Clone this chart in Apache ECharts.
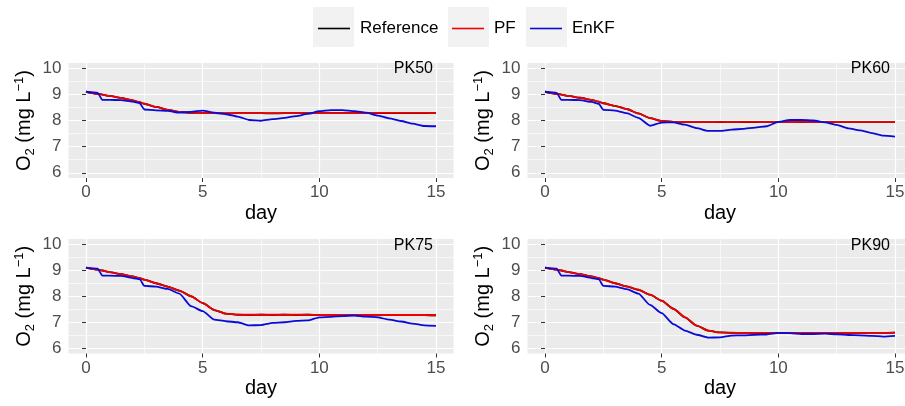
<!DOCTYPE html>
<html lang="en">
<head>
    <meta charset="UTF-8">
    <title>O2 PF vs EnKF</title>
    <script src="https://cdn.jsdelivr.net/npm/echarts@6/dist/echarts.min.js"></script>
    <style>
        html, body { margin: 0; padding: 0; background: #fff; }
        #chart { width: 905px; height: 406px; }
    </style>
</head>
<body>
    <div id="chart"></div>
    <script>
        // --- data ---
        const days = [0, 0.5, 0.7, 1, 1.5, 2, 2.3, 2.5, 3, 3.5, 4, 4.5, 5, 5.5, 6, 6.5, 7, 7.5, 8, 8.5, 9, 9.5, 10, 10.5, 11, 11.5, 12, 12.5, 13, 13.5, 14, 14.5, 15];

        const ref50  = [9.1, 9.02, 8.99, 8.94, 8.86, 8.77, 8.7, 8.64, 8.52, 8.41, 8.33, 8.29, 8.28, 8.28, 8.27, 8.28, 8.28, 8.28, 8.27, 8.28, 8.28, 8.28, 8.28, 8.28, 8.28, 8.28, 8.28, 8.28, 8.28, 8.28, 8.28, 8.28, 8.28];
        const pf50   = [9.1, 9.02, 8.99, 8.94, 8.86, 8.77, 8.7, 8.64, 8.52, 8.41, 8.33, 8.29, 8.28, 8.28, 8.28, 8.28, 8.28, 8.28, 8.28, 8.28, 8.28, 8.28, 8.28, 8.28, 8.28, 8.28, 8.28, 8.29, 8.29, 8.29, 8.29, 8.29, 8.28];
        const enkf50 = [9.1, 9.06, 8.79, 8.79, 8.78, 8.72, 8.66, 8.42, 8.39, 8.37, 8.3, 8.33, 8.38, 8.3, 8.24, 8.15, 8.02, 7.99, 8.05, 8.1, 8.17, 8.25, 8.36, 8.4, 8.4, 8.36, 8.3, 8.19, 8.08, 7.98, 7.88, 7.79, 7.78];

        const ref60  = [9.1, 9.02, 8.99, 8.94, 8.87, 8.79, 8.72, 8.66, 8.56, 8.44, 8.27, 8.09, 7.98, 7.95, 7.95, 7.95, 7.95, 7.94, 7.95, 7.94, 7.94, 7.95, 7.95, 7.95, 7.94, 7.95, 7.95, 7.95, 7.95, 7.95, 7.95, 7.95, 7.95];
        const pf60   = [9.1, 9.02, 8.99, 8.94, 8.87, 8.79, 8.72, 8.66, 8.56, 8.44, 8.27, 8.09, 7.98, 7.95, 7.95, 7.95, 7.95, 7.95, 7.95, 7.95, 7.95, 7.95, 7.95, 7.95, 7.95, 7.95, 7.95, 7.95, 7.95, 7.95, 7.95, 7.95, 7.95];
        const enkf60 = [9.1, 9.06, 8.79, 8.79, 8.78, 8.71, 8.64, 8.41, 8.38, 8.28, 8.1, 7.8, 7.92, 7.93, 7.84, 7.71, 7.6, 7.6, 7.65, 7.68, 7.73, 7.78, 7.95, 8.02, 8.02, 8.0, 7.93, 7.83, 7.7, 7.62, 7.52, 7.42, 7.38];

        const ref75  = [9.1, 9.02, 8.99, 8.93, 8.85, 8.76, 8.7, 8.64, 8.5, 8.37, 8.22, 8.0, 7.74, 7.47, 7.33, 7.29, 7.28, 7.29, 7.28, 7.29, 7.28, 7.29, 7.28, 7.28, 7.28, 7.28, 7.28, 7.27, 7.28, 7.28, 7.28, 7.28, 7.27];
        const pf75   = [9.1, 9.02, 8.99, 8.93, 8.85, 8.76, 8.7, 8.64, 8.5, 8.37, 8.22, 8.0, 7.74, 7.47, 7.33, 7.29, 7.29, 7.29, 7.29, 7.29, 7.29, 7.29, 7.28, 7.28, 7.28, 7.28, 7.28, 7.28, 7.28, 7.28, 7.28, 7.28, 7.27];
        const enkf75 = [9.1, 9.06, 8.79, 8.79, 8.78, 8.7, 8.66, 8.4, 8.37, 8.28, 8.1, 7.62, 7.43, 7.1, 7.04, 7.0, 6.88, 6.89, 6.98, 7.0, 7.05, 7.07, 7.19, 7.21, 7.24, 7.26, 7.22, 7.19, 7.1, 7.03, 6.95, 6.88, 6.86];

        const ref90  = [9.1, 9.02, 8.99, 8.93, 8.85, 8.76, 8.7, 8.64, 8.5, 8.38, 8.25, 8.06, 7.83, 7.52, 7.19, 6.87, 6.68, 6.61, 6.59, 6.59, 6.59, 6.58, 6.59, 6.59, 6.59, 6.58, 6.59, 6.59, 6.59, 6.59, 6.59, 6.59, 6.6];
        const pf90   = [9.1, 9.02, 8.99, 8.93, 8.85, 8.76, 8.7, 8.64, 8.5, 8.38, 8.25, 8.06, 7.83, 7.52, 7.19, 6.87, 6.68, 6.61, 6.6, 6.59, 6.59, 6.59, 6.59, 6.59, 6.59, 6.59, 6.59, 6.59, 6.59, 6.59, 6.59, 6.59, 6.6];
        const enkf90 = [9.1, 9.06, 8.79, 8.79, 8.78, 8.7, 8.66, 8.4, 8.37, 8.27, 8.1, 7.67, 7.35, 6.93, 6.68, 6.52, 6.41, 6.42, 6.49, 6.5, 6.52, 6.53, 6.59, 6.58, 6.55, 6.55, 6.56, 6.54, 6.51, 6.5, 6.48, 6.45, 6.48];

        const panelNames = ['PK50', 'PK60', 'PK75', 'PK90'];
        const panelData = [
            [ref50, pf50, enkf50],
            [ref60, pf60, enkf60],
            [ref75, pf75, enkf75],
            [ref90, pf90, enkf90]
        ];
        const seriesNames = ['Reference', 'PF', 'EnKF'];
        const seriesColors = ['#000000', '#F00000', '#0A0AD8'];

        const xMajor = [0, 5, 10, 15];
        const xMinor = [2.5, 7.5, 12.5];
        const yMajor = [6, 7, 8, 9, 10];
        const yMinor = [6.5, 7.5, 8.5, 9.5];

        // --- layout ---
        const font = '"Liberation Sans", Arial, sans-serif';
        const panelLeft = [68.5, 527.5, 68.5, 527.5];
        const panelTop = [63, 63, 239, 239];
        const panelH = [115, 115, 114.5, 114.5];

        const chart = echarts.init(document.getElementById('chart'), null, { renderer: 'canvas' });

        const grids = [], xAxes = [], yAxes = [], series = [], titles = [];

        panelNames.forEach(function (pk, p) {
            grids.push({
                left: panelLeft[p], top: panelTop[p], width: 385, height: panelH[p],
                show: true, backgroundColor: '#EBEBEB', borderWidth: 0,
                containLabel: false, outerBoundsMode: 'none'
            });

            // main x axis
            xAxes.push({
                type: 'value', gridIndex: p, min: -0.75, max: 15.75,
                name: 'day', nameLocation: 'middle', nameGap: 25,
                nameTextStyle: { fontFamily: font, fontSize: 20, color: '#000' },
                axisLine: { show: false },
                axisTick: { show: true, length: 4, customValues: xMajor, lineStyle: { color: '#333333', width: 1 } },
                axisLabel: { customValues: xMajor, margin: 6, fontFamily: font, fontSize: 17, color: '#4D4D4D' },
                splitLine: { show: true, lineStyle: { color: '#FFFFFF', width: 1.2 } }
            });
            // minor grid lines only
            xAxes.push({
                type: 'value', gridIndex: p, min: -0.75, max: 15.75, position: 'top',
                axisLine: { show: false },
                axisTick: { show: false, customValues: xMinor },
                axisLabel: { show: false, customValues: xMinor },
                splitLine: { show: true, lineStyle: { color: '#FFFFFF', width: 0.6 } }
            });

            yAxes.push({
                type: 'value', gridIndex: p, min: 5.8, max: 10.2,
                name: '{t|O}{sub|2}{t| (mg L}{sup|\u22121}{t|)}',
                nameLocation: 'middle', nameRotate: 90, nameGap: 32,
                nameTextStyle: {
                    fontFamily: font, fontSize: 20, color: '#000',
                    rich: {
                        t: { fontFamily: font, fontSize: 20, color: '#000', lineHeight: 24 },
                        sub: { fontFamily: font, fontSize: 13, color: '#000', verticalAlign: 'bottom', lineHeight: 13 },
                        sup: { fontFamily: font, fontSize: 13, color: '#000', verticalAlign: 'top', lineHeight: 13 }
                    }
                },
                axisLine: { show: false },
                axisTick: { show: true, length: 4, customValues: yMajor, lineStyle: { color: '#333333', width: 1 } },
                axisLabel: { customValues: yMajor, margin: 7, fontFamily: font, fontSize: 17, color: '#4D4D4D' },
                splitLine: { show: true, lineStyle: { color: '#FFFFFF', width: 1.2 } }
            });
            yAxes.push({
                type: 'value', gridIndex: p, min: 5.8, max: 10.2, position: 'right',
                axisLine: { show: false },
                axisTick: { show: false, customValues: yMinor },
                axisLabel: { show: false, customValues: yMinor },
                splitLine: { show: true, lineStyle: { color: '#FFFFFF', width: 0.6 } }
            });

            panelData[p].forEach(function (vals, s) {
                series.push({
                    name: seriesNames[s],
                    type: 'line',
                    xAxisIndex: 2 * p,
                    yAxisIndex: 2 * p,
                    data: days.map(function (d, i) { return [d, vals[i]]; }),
                    symbol: 'none',
                    smooth: 0.2,
                    smoothMonotone: 'x',
                    lineStyle: { color: seriesColors[s], width: 1.8 },
                    itemStyle: { color: seriesColors[s] },
                    silent: true,
                    z: 3 + s
                });
            });

            titles.push({
                text: pk,
                right: p % 2 === 0 ? 472 : 15,
                top: p < 2 ? 61 : 238,
                padding: 0,
                textStyle: { fontFamily: font, fontSize: 16, fontWeight: 'normal', color: '#000' }
            });
        });

        // ggplot-style legend: each key sits on a grey square
        const legendLeft = [318, 452, 530];
        const keyBoxLeft = [313, 448, 526];
        const legends = seriesNames.map(function (n, i) {
            return {
                data: [n], left: legendLeft[i], top: 20, padding: 0,
                icon: 'rect', itemWidth: 32, itemHeight: 1.6, selectedMode: false,
                textStyle: { fontFamily: font, fontSize: 17, color: '#000', padding: [0, 0, 0, 5] }
            };
        });
        const graphics = keyBoxLeft.map(function (x) {
            return { type: 'rect', shape: { x: x, y: 7, width: 41, height: 40 }, style: { fill: '#F2F2F2' }, z: -1, silent: true };
        });

        chart.setOption({
            animation: false,
            backgroundColor: '#FFFFFF',
            title: titles,
            legend: legends,
            graphic: graphics,
            grid: grids,
            xAxis: xAxes,
            yAxis: yAxes,
            series: series
        });
    </script>
</body>
</html>
